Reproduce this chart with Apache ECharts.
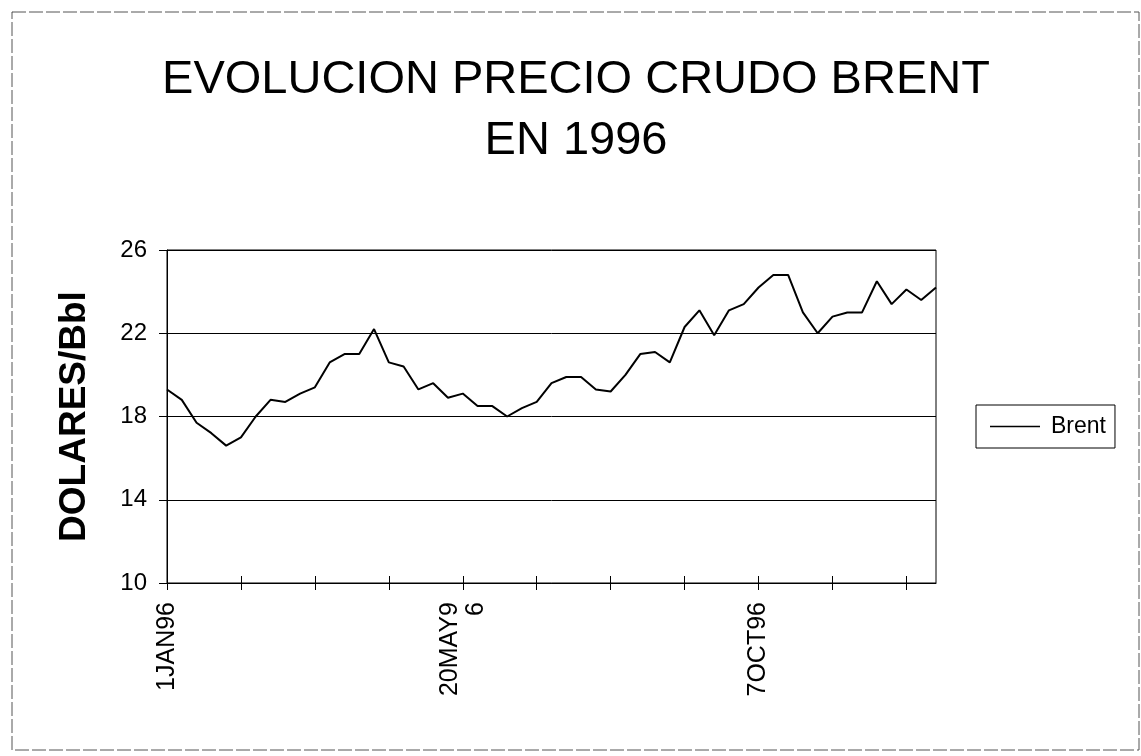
<!DOCTYPE html>
<html>
<head>
<meta charset="utf-8">
<title>Evolucion precio crudo Brent 1996</title>
<script src="https://cdn.jsdelivr.net/npm/echarts@6/dist/echarts.min.js"></script>
<style>
    html, body {
        margin: 0;
        padding: 0;
        background: #ffffff;
    }
    #chart {
        width: 1141px;
        height: 756px;
    }
</style>
</head>
<body>
<div id="chart"></div>
<script>
// semanas de 1996 (lunes)
var weeks = [
    "1JAN96", "8JAN96", "15JAN96", "22JAN96", "29JAN96",
    "5FEB96", "12FEB96", "19FEB96", "26FEB96",
    "4MAR96", "11MAR96", "18MAR96", "25MAR96",
    "1APR96", "8APR96", "15APR96", "22APR96", "29APR96",
    "6MAY96", "13MAY96", "20MAY96", "27MAY96",
    "3JUN96", "10JUN96", "17JUN96", "24JUN96",
    "1JUL96", "8JUL96", "15JUL96", "22JUL96", "29JUL96",
    "5AUG96", "12AUG96", "19AUG96", "26AUG96",
    "2SEP96", "9SEP96", "16SEP96", "23SEP96", "30SEP96",
    "7OCT96", "14OCT96", "21OCT96", "28OCT96",
    "4NOV96", "11NOV96", "18NOV96", "25NOV96",
    "2DEC96", "9DEC96", "16DEC96", "23DEC96", "30DEC96"
];

// precio Brent, dolares por barril
var brent = [
    19.3, 18.8, 17.7, 17.2, 16.6, 17.0, 18.0, 18.8, 18.7,
    19.1, 19.4, 20.6, 21.0, 21.0, 22.2, 20.6, 20.4, 19.3,
    19.6, 18.9, 19.1, 18.5, 18.5, 18.0, 18.4, 18.7,
    19.6, 19.9, 19.9, 19.3, 19.2, 20.0, 21.0, 21.1, 20.6,
    22.3, 23.1, 21.9, 23.1, 23.4, 24.2, 24.8, 24.8, 23.0,
    22.0, 22.8, 23.0, 23.0, 24.5, 23.4, 24.1, 23.6, 24.2
];

var yTicks = { min: 10, max: 26, step: 4 };

var font = "'Liberation Sans', Arial, sans-serif";

var chart = echarts.init(document.getElementById("chart"));

var option = {
    backgroundColor: "#ffffff",
    animation: false,
    title: {
        text: "EVOLUCION PRECIO CRUDO BRENT\nEN 1996",
        left: 571,
        top: 45,
        textAlign: "center",
        textStyle: {
            fontFamily: font,
            fontSize: 47,
            fontWeight: "normal",
            color: "#000",
            lineHeight: 61,
        },
    },
    legend: {
        data: ["Brent"],
        left: 976,
        top: 405,
        orient: "vertical",
        icon: "rect",
        padding: [10, 9, 10, 14],
        itemWidth: 50,
        itemHeight: 1.5,
        itemGap: 0,
        borderColor: "#000",
        borderWidth: 1,
        borderRadius: 0,
        textStyle: {
            fontFamily: font,
            fontSize: 23,
            color: "#000",
            padding: [0, 0, 0, 6],
        },
    },
    grid: {
        left: 167,
        right: 205,
        top: 250,
        bottom: 173,
        show: true,
        borderColor: "#000",
        borderWidth: 1,
        containLabel: false,
    },
    xAxis: [
        {
            type: "category",
            data: weeks,
            boundaryGap: false,
            axisLine: { lineStyle: { color: "#000", width: 1 } },
            axisTick: {
                interval: 4,
                length: 7,
                lineStyle: { color: "#000" },
            },
            axisLabel: {
                interval: 19,
                rotate: 90,
                margin: 19,
                fontFamily: font,
                fontSize: 25,
                color: "#000",
                lineHeight: 26,
                formatter: function (v) {
                    // Excel partio las etiquetas largas en dos lineas
                    return v.length > 6 ? v.slice(0, 6) + "\n" + v.slice(6) : v;
                },
            },
            splitLine: { show: false },
        },
        {
            // marcas cruzadas: parte interior de los ticks
            type: "category",
            data: weeks,
            position: "bottom",
            boundaryGap: false,
            axisLine: { show: false },
            axisTick: {
                inside: true,
                interval: 4,
                length: 7,
                lineStyle: { color: "#000" },
            },
            axisLabel: { show: false },
            splitLine: { show: false },
        },
    ],
    yAxis: {
        type: "value",
        min: yTicks.min,
        max: yTicks.max,
        interval: yTicks.step,
        name: "DOLARES/Bbl",
        nameLocation: "middle",
        nameRotate: 90,
        nameGap: 74,
        nameTextStyle: {
            fontFamily: font,
            fontSize: 37,
            fontWeight: "bold",
            color: "#000",
        },
        axisLine: { show: true, lineStyle: { color: "#000", width: 1 } },
        axisTick: {
            show: true,
            length: 8,
            lineStyle: { color: "#000" },
        },
        axisLabel: {
            margin: 20,
            fontFamily: font,
            fontSize: 24,
            color: "#000",
            padding: [0, 0, 12, 0],
        },
        splitLine: { lineStyle: { color: "#000", width: 1 } },
    },
    series: [
        {
            name: "Brent",
            type: "line",
            data: brent,
            xAxisIndex: 0,
            symbol: "none",
            lineStyle: { color: "#000", width: 2 },
            itemStyle: { color: "#000" },
        },
    ],
    graphic: [
        {
            // marco de la pagina
            type: "rect",
            shape: { x: 12, y: 12, width: 1127, height: 738 },
            style: {
                fill: "none",
                stroke: "#555",
                lineWidth: 1,
                lineDash: [14, 3],
            },
            silent: true,
        },
    ],
};

chart.setOption(option);
</script>
</body>
</html>
